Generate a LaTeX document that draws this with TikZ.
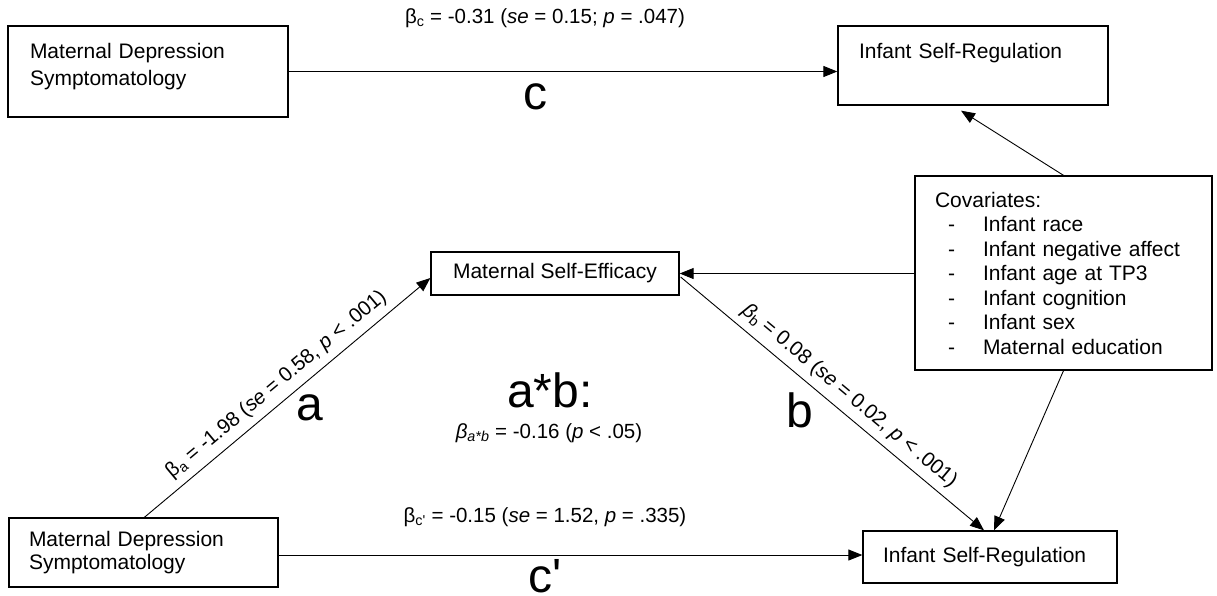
\documentclass[tikz,border=0pt]{standalone}
\usepackage{fontspec}
\setmainfont{Liberation Sans}[Ligatures=TeXOff]
\usetikzlibrary{arrows.meta,calc}
\newcommand\myfs{\fontsize{21}{24.5}\selectfont}
\newcommand\upby[2]{\raisebox{#1}[\height][\depth]{#2}}
\newcommand\cvitem[1]{\hspace*{13pt}\makebox[35pt][l]{-}#1}
\begin{document}
\begin{tikzpicture}[x=1pt,y=-1pt,
  box/.style={draw, line width=1.3pt, rectangle, inner sep=0pt, font=\myfs},
  arr/.style={-{Triangle[length=14pt,width=11pt]}, line width=0.9pt},
  big/.style={font=\fontsize{48}{50}\selectfont, inner sep=0pt},
  lbl/.style={font=\fontsize{20.5}{24}\selectfont, inner sep=0pt}]
\useasboundingbox[fill=white] (0,0) rectangle (1217,595);

% boxes
\node[box, minimum width=280pt, minimum height=91pt, text width=236pt, inner xsep=22pt, align=left, font=\fontsize{21}{27}\selectfont] (md1) at (148,71.5)
  {\upby{5pt}{\begin{tabular}{@{}l@{}}Maternal Depression\\Symptomatology\end{tabular}}};
\node[box, minimum width=270pt, minimum height=79pt, text width=228pt, inner xsep=21pt, align=left] (isr1) at (973,65.5)
  {\upby{12.5pt}{Infant Self-Regulation}};
\node[box, minimum width=297pt, minimum height=194pt, text width=257pt, inner xsep=20pt, align=left] (cov) at (1063.5,273)
  {Covariates:\\ \cvitem{Infant race}\\ \cvitem{Infant negative affect}\\ \cvitem{Infant age at TP3}\\ \cvitem{Infant cognition}\\ \cvitem{Infant sex}\\ \cvitem{Maternal education}};
\node[box, minimum width=248pt, minimum height=43pt] (mse) at (555,273.5) {Maternal Self-Efficacy};
\node[box, minimum width=269pt, minimum height=69pt, text width=229pt, inner xsep=20pt, align=left, font=\fontsize{21}{23.5}\selectfont] (md2) at (143.5,552.5)
  {Maternal Depression\\Symptomatology};
\node[box, minimum width=254pt, minimum height=52pt, text width=214pt, inner xsep=20pt, align=left] (isr2) at (990,557) {Infant Self-Regulation};

% connectors
\draw[arr] (md1.east) -- (md1.east -| isr1.west);
\draw[arr] (cov.north) -- ($(isr1.south)+(-12,5)$);
\draw[arr] (cov.west |- mse.east) -- (mse.east);
\draw[arr] ($(md2.north west)+(136,0)$) -- node[lbl, sloped, above=7pt, pos=0.5]
  {β\textsubscript{a} = -1.98 (\textit{se} = 0.58, \textit{p} < .001)} ($(mse.west)+(0,4.5)$);
\draw[arr] ($(mse.east)+(1,3.5)$) -- node[lbl, sloped, above=7pt, pos=0.52]
  {\textit{β}\textsubscript{b} = 0.08 (\textit{se} = 0.02, \textit{p} < .001)} ($(isr2.north)+(-6,0)$);
\draw[arr] (cov.south) -- ($(isr2.north)+(4,0)$);
\coordinate (cp) at ($(md2.east)+(0,2.5)$);
\draw[arr] (cp) -- (cp -| isr2.west);

% labels
\node[lbl] (lc) at (545,18) {β\textsubscript{c} = -0.31 (\textit{se} = 0.15; \textit{p} = .047)};
\node[big] (bc) at (535,97) {c};
\node[big] (ba) at (310,408) {a};
\node[big] (bb) at (800,410) {b};
\node[big] (bab) at (550,390) {a*b:};
\node[lbl] (lab) at (549,433) {\textit{β\textsubscript{a*b}} = -0.16 (\textit{p} < .05)};
\node[lbl] (lcp) at (545,517) {β\textsubscript{c'} = -0.15 (\textit{se} = 1.52, \textit{p} = .335)};
\node[big] (bcp) at (545,576.5) {c'};
\end{tikzpicture}
\end{document}
